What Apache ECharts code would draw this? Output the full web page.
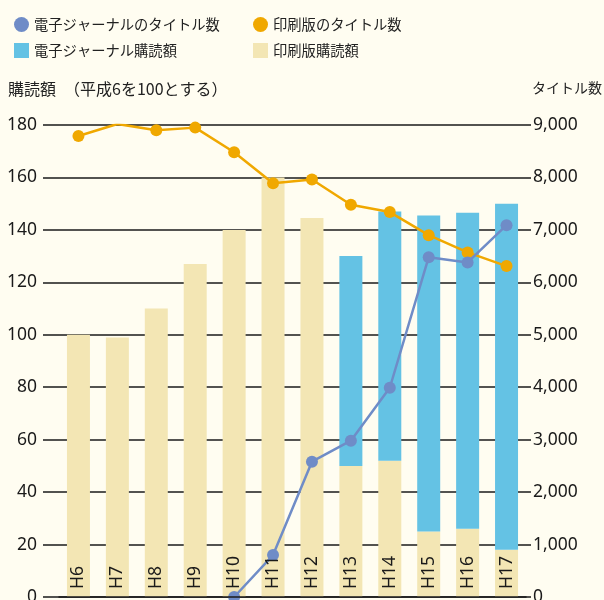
<!doctype html>
<html>
<head>
<meta charset="UTF-8">
<title></title>
<script src="https://cdn.jsdelivr.net/npm/echarts@6/dist/echarts.min.js"></script>
<style>
	html, body { margin: 0; padding: 0; background: #fffdf1; }
	#main { width: 604px; height: 600px; }
</style>
</head>
<body>
<div id="main"></div>
<script>
	// 年度
	var years = ['H6', 'H7', 'H8', 'H9', 'H10', 'H11', 'H12', 'H13', 'H14', 'H15', 'H16', 'H17'];
	// 購読額（平成6を100とする）
	var printCost = [100, 99, 110, 127, 140, 160, 144.5, 50, 52, 25, 26, 18];
	var ejCost = [null, null, null, null, null, null, null, 80, 95, 120.5, 120.5, 132];
	// タイトル数
	var printTitles = [8790, 9020, 8900, 8950, 8480, 7890, 7960, 7480, 7340, 6900, 6570, 6310];
	var ejTitles = [null, null, null, null, 0, 800, 2580, 2980, 3990, 6480, 6380, 7090];

	var leftTicks = [0, 180, 20];
	var rightTicks = [0, 9000, 1000];

	var font = '"Noto Sans CJK JP", "Noto Sans", sans-serif';
	var numFont = '"Noto Sans", sans-serif';
	var blueLine = '#6f8cc7';
	var orange = '#f0a800';
	var blueBar = '#64c2e4';
	var beige = '#f3e6b4';

	var chart = echarts.init(document.getElementById('main'));

	var option = {
		backgroundColor: '#fffdf1',
		animation: false,
		textStyle: { fontFamily: font },
		grid: { left: 59, right: 78, top: 125, bottom: 3, outerBoundsMode: 'none' },
		legend: [{
			left: 9, top: 12, orient: 'vertical',
			itemWidth: 15, itemHeight: 15, itemGap: 11,
			textStyle: { fontSize: 14.3, color: '#222', fontFamily: font },
			data: [
				{ name: '電子ジャーナルのタイトル数', icon: 'circle' },
				{ name: '電子ジャーナル購読額', icon: 'rect' }
			]
		}, {
			left: 248, top: 12, orient: 'vertical',
			itemWidth: 15, itemHeight: 15, itemGap: 11,
			textStyle: { fontSize: 14.3, color: '#222', fontFamily: font },
			data: [
				{ name: '印刷版のタイトル数', icon: 'circle' },
				{ name: '印刷版購読額', icon: 'rect' }
			]
		}],
		graphic: [{
			type: 'text', left: 8, top: 81,
			style: { text: '購読額　（平成6を100とする）', fill: '#222', font: '16px ' + font }
		}, {
			type: 'text', right: 2, top: 81,
			style: { text: 'タイトル数', fill: '#222', font: '14px ' + font }
		}],
		xAxis: {
			type: 'category',
			data: years,
			z: 10,
			axisLine: { lineStyle: { color: '#1a1a1a', width: 1.5 } },
			axisTick: { show: false },
			axisLabel: {
				inside: true, rotate: 90, margin: 8,
				fontSize: 17.5, color: '#1a1a1a', fontFamily: numFont
			}
		},
		yAxis: [{
			type: 'value',
			min: leftTicks[0], max: leftTicks[1], interval: leftTicks[2],
			axisLine: { show: false },
			axisTick: { show: true, length: 16, lineStyle: { color: '#1a1a1a', width: 1.5 } },
			axisLabel: { margin: 22, fontSize: 17.5, color: '#1a1a1a', fontFamily: numFont },
			splitLine: { lineStyle: { color: '#1a1a1a', width: 1.5 } }
		}, {
			type: 'value',
			min: rightTicks[0], max: rightTicks[1], interval: rightTicks[2],
			axisLine: { show: false },
			axisTick: { show: true, length: 5, lineStyle: { color: '#1a1a1a', width: 1.5 } },
			axisLabel: {
				margin: 7, fontSize: 17.5, color: '#1a1a1a', fontFamily: numFont,
				formatter: function (v) { return v.toLocaleString('en-US'); }
			},
			splitLine: { show: false }
		}],
		series: [{
			name: '印刷版購読額',
			type: 'bar', stack: 'cost', barWidth: 23,
			itemStyle: { color: beige },
			data: printCost
		}, {
			name: '電子ジャーナル購読額',
			type: 'bar', stack: 'cost', barWidth: 23,
			itemStyle: { color: blueBar },
			data: ejCost
		}, {
			name: '印刷版のタイトル数',
			type: 'line', yAxisIndex: 1, z: 5,
			symbol: 'circle', symbolSize: 12,
			lineStyle: { color: orange, width: 2.5 },
			itemStyle: { color: orange },
			data: printTitles
		}, {
			name: '電子ジャーナルのタイトル数',
			type: 'line', yAxisIndex: 1, z: 6,
			symbol: 'circle', symbolSize: 12,
			lineStyle: { color: blueLine, width: 2.5 },
			itemStyle: { color: blueLine },
			data: ejTitles
		}]
	};
	chart.setOption(option);
</script>
</body>
</html>
